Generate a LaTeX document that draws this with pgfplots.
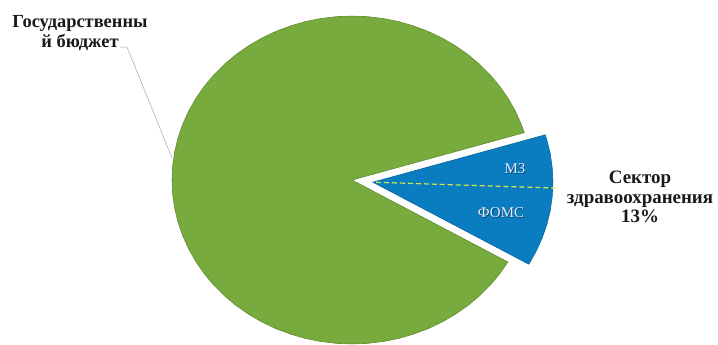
\documentclass[border=0pt]{standalone}
\usepackage{pgfplots}
\pgfplotsset{compat=1.18}
\usepackage{fontspec}
\setmainfont{Liberation Serif}
\definecolor{pgreen}{RGB}{120,171,62}
\definecolor{pgreenedge}{RGB}{96,140,46}
\definecolor{pblue}{RGB}{10,125,193}
\definecolor{pblueedge}{RGB}{8,100,160}
\definecolor{pyellow}{RGB}{215,232,70}
\begin{document}
\begin{tikzpicture}
\begin{axis}[
  hide axis, scale only axis,
  x=1bp, y=0.911bp,
  xmin=-352, xmax=366, ymin=-177.8, ymax=197.6,
  clip=false,
]
% bounding helper
\addplot[draw=none] coordinates {(-352,-177.8) (366,197.6)};
% green slice: 87% (state budget), polar (angle, radius)
\addplot[data cs=polar, fill=pgreen, draw=pgreenedge, line width=0.6pt] coordinates {
(0,0) (16.8,180) (20,180) (25,180) (30,180) (35,180) (40,180) (45,180) (50,180) (55,180)
(60,180) (65,180) (70,180) (75,180) (80,180) (85,180) (90,180) (95,180) (100,180) (105,180)
(110,180) (115,180) (120,180) (125,180) (130,180) (135,180) (140,180) (145,180) (150,180)
(155,180) (160,180) (165,180) (170,180) (175,180) (180,180) (185,180) (190,180) (195,180)
(200,180) (205,180) (210,180) (215,180) (220,180) (225,180) (230,180) (235,180) (240,180)
(245,180) (250,180) (255,180) (260,180) (265,180) (270,180) (275,180) (280,180) (285,180)
(290,180) (295,180) (300,180) (305,180) (310,180) (315,180) (320,180) (325,180) (330,180) (0,0)
} -- cycle;
% blue slice: 13% (health sector), exploded
\addplot[fill=pblue, draw=pblueedge, line width=0.6pt] coordinates {
(20.9,-2.4) (176.8,-92.4) (184.0,-78.5) (190.0,-64.0) (194.8,-49.0) (198.2,-33.7)
(200.2,-18.1) (200.9,-2.4) (200.2,13.3) (198.2,28.9) (194.8,44.2) (193.2,49.6) (20.9,-2.4)
} -- cycle;
% split between MZ and FOMS
\addplot[pyellow, line width=1.2pt, dash pattern=on 5pt off 3pt] coordinates {(24,-2.5) (203,-8.8)};
% leader line
\addplot[gray!70, line width=0.5pt] coordinates {(-232,146) (-225,146) (-180,24.2)};
\node[font=\bfseries\fontsize{18.5}{20}\selectfont, align=center, text=black!90] at (axis cs:-272,160.8) {Государственны\\й бюджет};
\node[font=\bfseries\fontsize{19}{19.5}\selectfont, align=center, text=black!90] at (axis cs:288,-18.7) {Сектор\\здравоохранения\\13\%};
\node[font=\fontsize{15}{16}\selectfont, text=pblueedge!60!black] at (axis cs:163.6,11.6) {МЗ};
\node[font=\fontsize{15}{16}\selectfont, text=white!92!blue] at (axis cs:163,12.8) {МЗ};
\node[font=\fontsize{15}{16}\selectfont, text=pblueedge!60!black] at (axis cs:149.6,-37.4) {ФОМС};
\node[font=\fontsize{15}{16}\selectfont, text=white!92!blue] at (axis cs:149,-36.2) {ФОМС};
\end{axis}
\end{tikzpicture}
\end{document}
